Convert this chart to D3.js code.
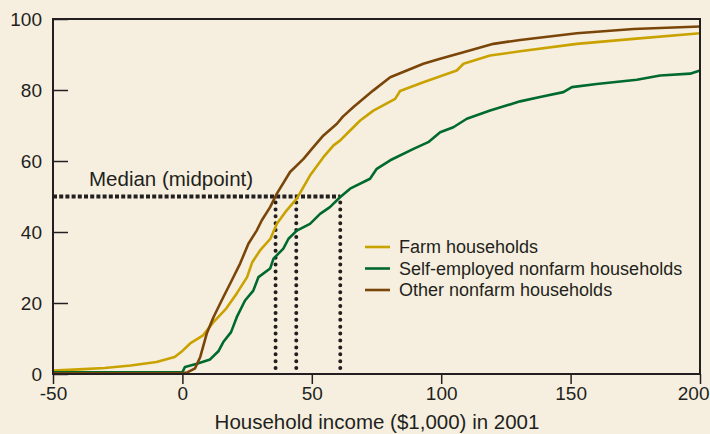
<!DOCTYPE html>
<html>
<head>
<meta charset="utf-8">
<script src="https://cdn.jsdelivr.net/npm/d3@7"></script>
<style>
  html, body { margin: 0; padding: 0; background: #f6efdf; }
  svg { display: block; font-family: "Liberation Sans", Arial, sans-serif; }
</style>
</head>
<body>
<svg id="chart" width="710" height="434"></svg>
<script>
// cumulative share of households by income, 2001
const seriesNames = ["Farm households", "Self-employed nonfarm households", "Other nonfarm households"];
const seriesColors = ["#c9a200", "#006a2e", "#7a4508"];

const farmIncome = [-50, -40, -30, -20, -10, -3, 0, 3, 8, 12, 17, 21, 25, 27, 30, 34, 36.5, 40.3, 44.2, 49.3, 54.4, 58.4, 61, 64.8, 68.7, 73.8, 82.2, 84.1, 93.1, 106, 108.6, 118.9, 130.5, 152.4, 174.3, 200];
const farmPct = [1.0, 1.3, 1.7, 2.4, 3.4, 4.8, 6.5, 8.6, 10.9, 14.6, 18.5, 22.7, 27.3, 31.5, 34.8, 38.1, 42.3, 46.1, 49.4, 55.9, 61, 64.4, 65.8, 68.6, 71.4, 74.2, 77.5, 79.7, 82.2, 85.5, 87.4, 89.7, 90.9, 93, 94.4, 96];

const selfIncome = [-50, 0, 1, 5.6, 10.7, 13.9, 15.8, 18.8, 21, 24.2, 27.4, 29.4, 33.9, 35.2, 39, 41, 44.2, 49.3, 53.2, 57, 60.9, 64.8, 72.5, 75.1, 80.3, 89.3, 95, 99.6, 104.7, 109.9, 118.9, 130.5, 138.2, 147.2, 150.5, 160.1, 175.6, 184.6, 196.2, 200];
const selfPct = [0.5, 0.5, 2, 2.9, 4.1, 6.4, 9, 11.8, 16, 20.7, 23.5, 27.3, 29.7, 32.5, 35.3, 38.1, 40.4, 42.3, 45.1, 47, 49.8, 52.2, 55, 57.8, 60.2, 63.4, 65.3, 68.1, 69.5, 71.9, 74.2, 76.8, 78, 79.4, 80.8, 81.7, 82.9, 84.1, 84.6, 85.5];

const otherIncome = [-50, -10, 0, 1.7, 4.9, 6.9, 9.4, 12, 15.5, 19.1, 22.3, 25.5, 28.7, 30.7, 33.9, 36.5, 41.6, 46.8, 50.6, 54.5, 59.7, 62, 66.1, 73.8, 80.3, 86.7, 93.1, 99.6, 108.6, 120.2, 130.5, 152.4, 174.3, 200];
const otherPct = [0.2, 0.2, 0.3, 0.4, 1.6, 4.8, 11.4, 16, 21.2, 26.4, 31.1, 36.7, 40.4, 43.3, 47, 50.8, 56.9, 60.6, 63.9, 67.2, 70.5, 72.5, 75.2, 79.9, 83.6, 85.5, 87.4, 88.8, 90.6, 93, 94.1, 96, 97.2, 97.9];

// medians in the order other, farm, self-employed
const medianIncome = [36, 44, 61];
const medianPct = 50;

const xTicks = [-50, 0, 50, 100, 150, 200];
const yTicks = [0, 20, 40, 60, 80, 100];

const width = 710;
const height = 434;
const margin = { top: 19, right: 10, bottom: 60, left: 53 };
const ink = "#231f20";

const svg = d3.select("#chart");

const x = d3.scaleLinear().domain([-50, 200]).range([margin.left, width - margin.right]);
const y = d3.scaleLinear().domain([0, 100]).range([height - margin.bottom, margin.top]);

const series = [
  { name: seriesNames[0], color: seriesColors[0], pts: farmIncome.map((v, i) => [v, farmPct[i]]) },
  { name: seriesNames[1], color: seriesColors[1], pts: selfIncome.map((v, i) => [v, selfPct[i]]) },
  { name: seriesNames[2], color: seriesColors[2], pts: otherIncome.map((v, i) => [v, otherPct[i]]) },
];

// median guides
svg.append("line")
  .attr("x1", x(-50)).attr("x2", x(d3.max(medianIncome)))
  .attr("y1", y(medianPct)).attr("y2", y(medianPct))
  .attr("stroke", ink).attr("stroke-width", 4)
  .attr("stroke-dasharray", "4,2.2");

svg.selectAll(".med")
  .data(medianIncome)
  .join("line")
  .attr("class", "med")
  .attr("x1", (d) => x(d)).attr("x2", (d) => x(d))
  .attr("y1", y(medianPct) + 6).attr("y2", y(0) - 3)
  .attr("stroke", ink).attr("stroke-width", 4)
  .attr("stroke-linecap", "round")
  .attr("stroke-dasharray", "0,6.9");

svg.append("text")
  .attr("x", 89).attr("y", 186)
  .attr("fill", ink).attr("font-size", 20.5)
  .text("Median (midpoint)");

// curves
const line = d3.line().x((d) => x(d[0])).y((d) => y(d[1]));
svg.selectAll(".curve")
  .data(series)
  .join("path")
  .attr("class", "curve")
  .attr("fill", "none")
  .attr("stroke", (d) => d.color)
  .attr("stroke-width", 2.6)
  .attr("stroke-linejoin", "round")
  .attr("d", (d) => line(d.pts));

// axes
svg.append("g")
  .attr("transform", `translate(${margin.left},0)`)
  .call(d3.axisLeft(y).tickValues(yTicks).tickSizeInner(-15).tickSizeOuter(0).tickPadding(11))
  .call((g) => g.select(".domain").remove())
  .call((g) => g.selectAll("line").attr("stroke", ink).attr("stroke-width", 1.5))
  .call((g) => g.selectAll("text").attr("fill", ink).attr("font-size", 19).attr("font-family", null));

svg.append("g")
  .attr("transform", `translate(0,${height - margin.bottom})`)
  .call(d3.axisBottom(x).tickValues(xTicks).tickFormat((d) => String(d)).tickSizeInner(10).tickSizeOuter(0).tickPadding(3))
  .call((g) => g.select(".domain").remove())
  .call((g) => g.selectAll("line").attr("stroke", ink).attr("stroke-width", 1.5))
  .call((g) => g.selectAll("text").attr("fill", ink).attr("font-size", 19).attr("font-family", null))
  // last label would run past the window edge, pull it in
  .call((g) => g.selectAll(".tick").filter((d) => d === 200).select("text")
    .attr("text-anchor", "end").attr("x", 9));

// frame
svg.append("rect")
  .attr("x", margin.left).attr("y", margin.top)
  .attr("width", width - margin.left - margin.right)
  .attr("height", height - margin.top - margin.bottom)
  .attr("fill", "none").attr("stroke", ink).attr("stroke-width", 2);

svg.append("text")
  .attr("x", 377).attr("y", 429)
  .attr("text-anchor", "middle")
  .attr("fill", ink).attr("font-size", 20.5)
  .text("Household income ($1,000) in 2001");

// legend
const legend = svg.append("g").attr("transform", "translate(365,247)");
legend.selectAll("g")
  .data(series)
  .join("g")
  .attr("transform", (d, i) => `translate(0,${i * 21.5})`)
  .call((g) => g.append("line")
    .attr("x1", 0).attr("x2", 25)
    .attr("stroke", (d) => d.color).attr("stroke-width", 2.6))
  .call((g) => g.append("text")
    .attr("x", 34).attr("dy", "0.35em")
    .attr("fill", ink).attr("font-size", 18)
    .text((d) => d.name));
</script>
</body>
</html>
